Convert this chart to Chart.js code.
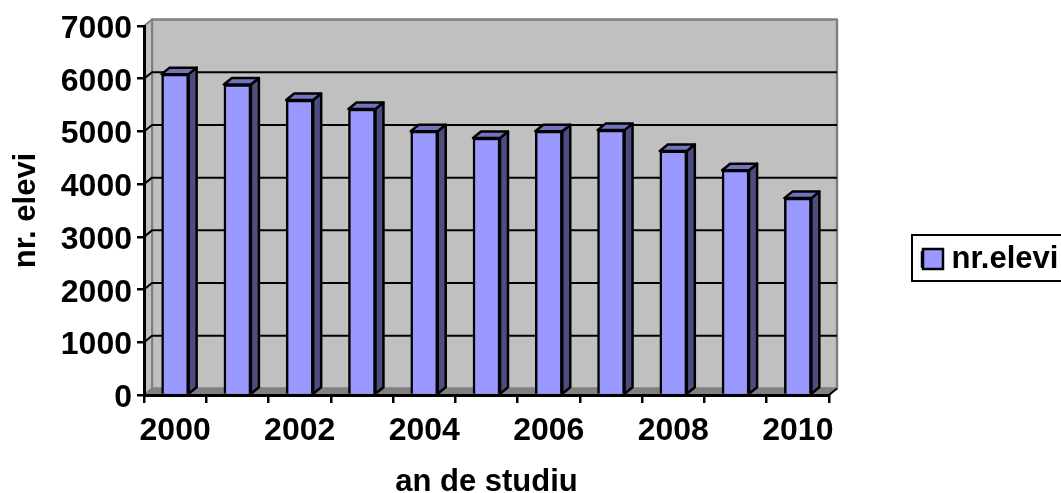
<!DOCTYPE html>
<html>
<head>
<meta charset="utf-8">
<style>
  html, body { margin: 0; padding: 0; background: #fff; overflow: hidden; }
  canvas { display: block; }
</style>
<script src="https://cdn.jsdelivr.net/npm/chart.js@4"></script>
</head>
<body>
<canvas id="chart" width="1061" height="493"></canvas>
<script>
const years = ['2000', '2001', '2002', '2003', '2004', '2005', '2006', '2007', '2008', '2009', '2010'];
const elevi = [6087, 5890, 5595, 5425, 5005, 4875, 5005, 5025, 4630, 4265, 3735];

const FONT = { family: '"Liberation Sans", Arial, sans-serif', weight: 'bold', size: 31 };
const TICK_FONT = { ...FONT, size: 32 };
const DEPTH = { x: 8, y: 6.5 };
const COLORS = {
    wall: '#c0c0c0',
    edge: '#808080',
    front: '#9999ff',
    side: '#4d4d80',
    top: '#7373bf',
};

function polygon(ctx, pts, fill, stroke, width) {
    ctx.beginPath();
    pts.forEach(([x, y], i) => i ? ctx.lineTo(x, y) : ctx.moveTo(x, y));
    ctx.closePath();
    if (fill) { ctx.fillStyle = fill; ctx.fill(); }
    if (stroke) { ctx.strokeStyle = stroke; ctx.lineWidth = width; ctx.lineJoin = 'round'; ctx.stroke(); }
}

// back wall, side wall and floor sit behind the axes
const walls = {
    id: 'walls',
    beforeDraw(chart) {
        const { ctx, chartArea: { left, right, top, bottom }, scales: { y } } = chart;
        const dx = DEPTH.x, dy = DEPTH.y;
        ctx.save();
        polygon(ctx, [[left + dx, top - dy], [right + dx, top - dy], [right + dx, bottom - dy], [left + dx, bottom - dy]], COLORS.wall, COLORS.edge, 2.5);
        polygon(ctx, [[left, top], [left + dx, top - dy], [left + dx, bottom - dy], [left, bottom]], COLORS.wall, COLORS.edge, 2);
        polygon(ctx, [[left, bottom], [left + dx, bottom - dy], [right + dx, bottom - dy], [right, bottom]], COLORS.edge, COLORS.edge, 1);
        ctx.strokeStyle = '#000';
        ctx.lineWidth = 2;
        y.ticks.forEach(t => {
            if (t.value === 0 || t.value === y.max) return;
            const py = y.getPixelForValue(t.value);
            ctx.beginPath();
            ctx.moveTo(left, py);
            ctx.lineTo(left + dx, py - dy);
            ctx.lineTo(right + dx, py - dy);
            ctx.stroke();
        });
        ctx.beginPath();
        ctx.moveTo(right, bottom);
        ctx.lineTo(right + dx, bottom - dy);
        ctx.stroke();
        ctx.restore();
    },
    // the top and side faces of each bar come from the bar's own position
    beforeDatasetsDraw(chart) {
        const { ctx } = chart;
        const dx = DEPTH.x, dy = DEPTH.y;
        ctx.save();
        chart.getDatasetMeta(0).data.forEach(bar => {
            const l = bar.x - bar.width / 2, r = bar.x + bar.width / 2;
            polygon(ctx, [[r, bar.y], [r + dx, bar.y - dy], [r + dx, bar.base - dy], [r, bar.base]], COLORS.side, '#000', 2.5);
            polygon(ctx, [[l, bar.y], [l + dx, bar.y - dy], [r + dx, bar.y - dy], [r, bar.y]], COLORS.top, '#000', 2.5);
        });
        ctx.restore();
    },
    afterLayout(chart) {
        const legend = chart.legend;
        legend.left = 912;
        legend.right = 1062;
        legend.top = 234;
        legend.bottom = 281;
    },
    afterDraw(chart) {
        const { ctx } = chart;
        ctx.save();
        ctx.strokeStyle = '#000';
        ctx.lineWidth = 2;
        ctx.strokeRect(912, 235, 152, 46);
        ctx.fillStyle = COLORS.front;
        ctx.lineWidth = 2.5;
        ctx.fillRect(923, 249, 20, 20);
        ctx.strokeRect(923, 249, 20, 20);
        ctx.restore();
    },
};

new Chart(document.getElementById('chart').getContext('2d'), {
    type: 'bar',
    data: {
        labels: years,
        datasets: [{
            label: 'nr.elevi',
            data: elevi,
            backgroundColor: COLORS.front,
            borderColor: '#000',
            borderWidth: 2.5,
            barThickness: 27,
        }],
    },
    options: {
        responsive: false,
        animation: false,
        layout: { padding: { top: 26, right: 232, left: 0, bottom: 0 } },
        scales: {
            x: {
                afterFit: scale => { scale.height = 98; },
                grid: { drawOnChartArea: false, color: '#000', lineWidth: 2.5, tickLength: 8 },
                border: { color: '#000', width: 3 },
                title: { display: true, text: 'an de studiu', color: '#000', font: FONT, padding: { top: 0, bottom: -8 } },
                ticks: {
                    color: '#000',
                    font: TICK_FONT,
                    padding: 9,
                    autoSkip: false,
                    maxRotation: 0,
                    callback(value, index) { return index % 2 ? '' : this.getLabelForValue(value); },
                },
            },
            y: {
                min: 0,
                max: 7000,
                afterFit: scale => { scale.width = 144; },
                grid: { drawOnChartArea: false, color: '#000', lineWidth: 2.5, tickLength: 7 },
                border: { color: '#000', width: 3 },
                title: { display: true, text: 'nr. elevi', color: '#000', font: FONT, padding: { top: 8, bottom: 0 } },
                ticks: {
                    color: '#000',
                    // the empty first line nudges the digits down to sit on the tick
                    font: { ...TICK_FONT, lineHeight: 0.2 },
                    padding: 5,
                    stepSize: 1000,
                    callback: value => ['', String(value)],
                },
            },
        },
        plugins: {
            tooltip: { enabled: false },
            legend: {
                position: 'chartArea',
                align: 'start',
                labels: { color: '#000', font: FONT, boxWidth: 14, boxHeight: 14, padding: 10 },
            },
        },
    },
    plugins: [walls],
});
</script>
</body>
</html>
